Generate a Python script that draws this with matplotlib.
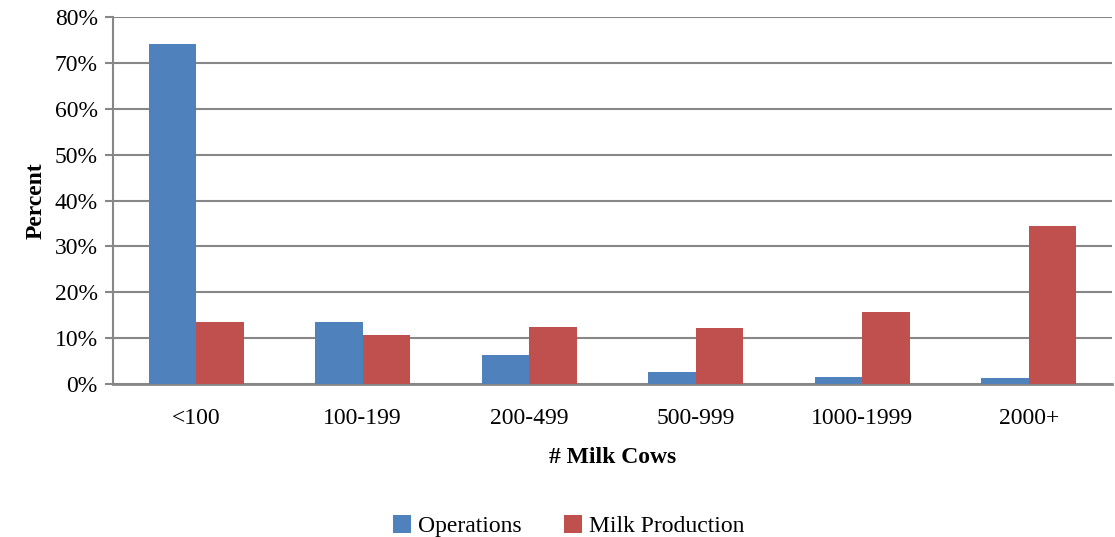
import matplotlib.pyplot as plt
import numpy as np
from matplotlib.ticker import PercentFormatter

# data (percent)
categories = ["<100", "100-199", "200-499", "500-999", "1000-1999", "2000+"]
operations = [74.2, 13.5, 6.4, 2.5, 1.5, 1.2]
milk_production = [13.6, 10.6, 12.5, 12.2, 15.8, 34.5]

plt.rcParams['font.family'] = ['Liberation Serif', 'DejaVu Serif']

fig = plt.figure(figsize=(11.15, 5.37), dpi=100)
ax = fig.add_axes([0.1013, 0.285, 0.896, 0.683])

x = np.arange(len(categories))
w = 0.286
ax.bar(x - w / 2, operations, w, color="#4F81BD", label="Operations", zorder=3)
ax.bar(x + w / 2, milk_production, w, color="#C0504D", label="Milk Production", zorder=3)

ax.set_xlim(-0.5, len(categories) - 0.5)
ax.set_ylim(0, 80)
ax.set_yticks(np.arange(0, 81, 10))
ax.yaxis.set_major_formatter(PercentFormatter(decimals=0))
ax.set_xticks(x)
ax.set_xticklabels(categories)

ax.grid(axis="y", color="#878787", linewidth=1.5, zorder=0)
for s in ["top", "right"]:
    ax.spines[s].set_visible(False)
ax.spines["left"].set_color("#878787")
ax.spines["bottom"].set_color("#878787")
ax.spines["left"].set_linewidth(1.5)
ax.spines["bottom"].set_linewidth(2)
ax.tick_params(axis="y", length=6, color="#878787", width=1.5, labelsize=17, pad=5)
ax.tick_params(axis="x", length=0, labelsize=17, pad=17)

ax.set_xlabel("# Milk Cows", fontsize=17, fontweight="bold", labelpad=13)
ax.set_ylabel("Percent", fontsize=17, fontweight="bold", labelpad=6)

fig.legend(loc="lower center", bbox_to_anchor=(0.51, -0.04), ncol=2, frameon=False,
           fontsize=17, handlelength=0.75, handleheight=0.75, handletextpad=0.3,
           columnspacing=1.8)

fig.savefig("out.png", dpi=100)
